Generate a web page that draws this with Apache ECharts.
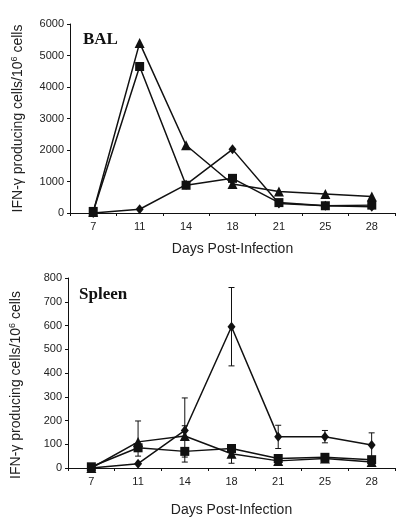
<!DOCTYPE html>
<html>
<head>
<meta charset="utf-8">
<script src="https://cdn.jsdelivr.net/npm/echarts@6/dist/echarts.min.js"></script>
<style>
html,body{margin:0;padding:0;background:#fff;}
#c{width:401px;height:524px;}
</style>
</head>
<body>
<div id="c"></div>
<script>
var days = ['7','11','14','18','21','25','28'];
var balTicks = [0,1000,2000,3000,4000,5000,6000];
var spleenTicks = [0,100,200,300,400,500,600,700,800];

var balDiamond  = [0,120,900,2020,300,230,200];
var balSquare   = [50,4650,880,1100,330,230,250];
var balTriangle = [30,5400,2150,920,680,600,520];

var spleenDiamond  = [0,18,158,595,132,132,97];
var spleenSquare   = [5,85,70,82,40,45,35];
var spleenTriangle = [0,110,135,60,30,40,25];

var spleenDiamondHigh  = [null,null,295,760,180,158,148];
var spleenDiamondLow   = [null,null,25,430,82,106,45];
var spleenTriangleHigh = [null,198,178,null,null,null,null];
var spleenTriangleLow  = [null,50,null,20,null,null,null];
var spleenSquareHigh   = [null,null,null,null,55,null,null];
var spleenSquareLow    = [null,null,46,null,null,null,null];

function errData(vals, lows, highs){
  var out = [];
  for (var i=0;i<vals.length;i++){
    if (lows[i]==null && highs[i]==null) continue;
    var lo = lows[i]==null ? vals[i] : lows[i];
    var hi = highs[i]==null ? vals[i] : highs[i];
    out.push([i, lo, hi, lows[i]!=null?1:0, highs[i]!=null?1:0]);
  }
  return out;
}

function errSeries(data, xi, yi){
  return {
    type:'custom', xAxisIndex:xi, yAxisIndex:yi, z:1, silent:true,
    data:data,
    renderItem:function(params, api){
      var x = api.value(0);
      var lo = api.coord([x, api.value(1)]);
      var hi = api.coord([x, api.value(2)]);
      var w = 3;
      var ch = [{type:'line', shape:{x1:lo[0],y1:lo[1],x2:hi[0],y2:hi[1]}, style:{stroke:'#111',lineWidth:1}}];
      if (api.value(3)) ch.push({type:'line', shape:{x1:lo[0]-w,y1:lo[1],x2:lo[0]+w,y2:lo[1]}, style:{stroke:'#111',lineWidth:1}});
      if (api.value(4)) ch.push({type:'line', shape:{x1:hi[0]-w,y1:hi[1],x2:hi[0]+w,y2:hi[1]}, style:{stroke:'#111',lineWidth:1}});
      return {type:'group', children:ch};
    }
  };
}

function lineSeries(data, sym, size, xi, yi){
  return {
    type:'line', xAxisIndex:xi, yAxisIndex:yi, data:data, z:3,
    symbol:sym, symbolSize:size, showAllSymbol:true,
    lineStyle:{color:'#111', width:1.5},
    itemStyle:{color:'#111', borderWidth:0},
    animation:false
  };
}

var font = 'Liberation Sans, Arial, sans-serif';
var nameRich = {sup:{fontSize:9, fontFamily:font, color:'#222', verticalAlign:'top', lineHeight:16, padding:[0,0,6,0]}};

function xAx(gi, gap){
  return {
    type:'category', gridIndex:gi, data:days, boundaryGap:true,
    axisLine:{lineStyle:{color:'#111', width:1}},
    axisTick:{show:true, length:3, lineStyle:{color:'#111'}},
    axisLabel:{color:'#222', fontSize:11, fontFamily:font, margin:8},
    splitLine:{show:false},
    name:'Days Post-Infection', nameLocation:'middle', nameGap:gap,
    nameTextStyle:{color:'#222', fontSize:14, fontFamily:font}
  };
}
function yAx(gi, ticks, pad){
  return {
    type:'value', gridIndex:gi, min:ticks[0], max:ticks[ticks.length-1], interval:ticks[1]-ticks[0],
    axisLine:{show:true, lineStyle:{color:'#111', width:1}},
    axisTick:{show:true, length:3, lineStyle:{color:'#111'}},
    axisLabel:{color:'#222', fontSize:11, fontFamily:font, margin:6, formatter:function(v){return String(v);}},
    splitLine:{show:false},
    name:'IFN-\u03b3 producing cells/10{sup|6} cells', nameLocation:'middle', nameGap:44,
    nameTextStyle:{color:'#222', fontSize:14, fontFamily:font, lineHeight:16, rich:nameRich, padding:pad}
  };
}

var chart = echarts.init(document.getElementById('c'), null, {renderer:'canvas'});
chart.setOption({
  animation:false,
  backgroundColor:'#fff',
  title:[
    {text:'BAL', left:78, top:26, textStyle:{fontFamily:'Liberation Serif, Times New Roman, serif', fontWeight:'bold', fontSize:17, color:'#111'}},
    {text:'Spleen', left:74, top:281, textStyle:{fontFamily:'Liberation Serif, Times New Roman, serif', fontWeight:'bold', fontSize:17, color:'#111'}}
  ],
  grid:[
    {left:70, right:6, top:24, height:189},
    {left:67, right:6, top:278, height:190}
  ],
  xAxis:[xAx(0, 29), xAx(1, 35)],
  yAxis:[yAx(0, balTicks, [0,0,0,0]), yAx(1, spleenTicks, [0,24,0,0])],
  series:[
    lineSeries(balDiamond, 'diamond', [8,10], 0, 0),
    lineSeries(balSquare, 'rect', 9, 0, 0),
    lineSeries(balTriangle, 'triangle', 10, 0, 0),
    errSeries(errData(spleenDiamond, spleenDiamondLow, spleenDiamondHigh), 1, 1),
    errSeries(errData(spleenTriangle, spleenTriangleLow, spleenTriangleHigh), 1, 1),
    errSeries(errData(spleenSquare, spleenSquareLow, spleenSquareHigh), 1, 1),
    lineSeries(spleenDiamond, 'diamond', [8,10], 1, 1),
    lineSeries(spleenSquare, 'rect', 9, 1, 1),
    lineSeries(spleenTriangle, 'triangle', 10, 1, 1)
  ]
});
</script>
</body>
</html>
